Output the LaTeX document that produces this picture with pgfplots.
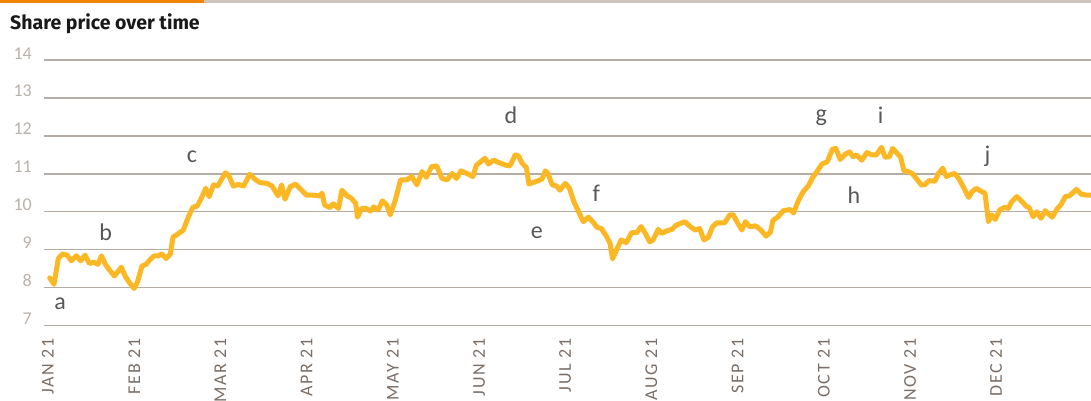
\documentclass[border=0pt]{standalone}
\usepackage{fontspec}
\usepackage{pgfplots}
\pgfplotsset{compat=1.18}
\setmainfont{Carlito}
\newfontfamily\titlefont{Fira Sans}
\newfontfamily\monthfont[LetterSpace=9]{Carlito}
\definecolor{lineamber}{RGB}{251,183,36}
\definecolor{gridcol}{RGB}{182,172,163}
\definecolor{ytickcol}{RGB}{185,178,170}
\definecolor{xtickcol}{RGB}{122,110,102}
\definecolor{lettercol}{RGB}{88,88,88}
\definecolor{barorange}{RGB}{240,131,0}
\definecolor{bargray}{RGB}{205,198,190}
\begin{document}
\begin{tikzpicture}[x=1pt,y=1pt]
\useasboundingbox (0,0) rectangle (1091,401);
\clip (0,0) rectangle (1091,401);
\fill[barorange] (0,398) rectangle (204,401);
\fill[bargray] (204,398) rectangle (1091,401);
\node[anchor=base west, inner sep=0pt, font=\titlefont\bfseries\fontsize{19.5}{22}\selectfont, text=black!90] at (10,371.7) {Share price over time};
\begin{axis}[
  at={(44pt,75.3pt)}, anchor=south west,
  scale only axis, width=1047pt, height=265.7pt,
  xmin=-0.046, xmax=12.10, ymin=7, ymax=14,
  axis line style={draw=none},
  major tick length=0pt,
  ytick={7,8,...,14},
  ymajorgrids,
  grid style={gridcol, line width=1.3pt},
  xtick={0,1,...,11},
  xticklabels={JAN 21,FEB 21,MAR 21,APR 21,MAY 21,JUN 21,JUL 21,AUG 21,SEP 21,OCT 21,NOV 21,DEC 21},
  xticklabel style={rotate=90, anchor=east, inner xsep=12.5pt, inner ysep=0pt, text=xtickcol, font=\monthfont\fontsize{18}{20}\selectfont},
  yticklabel style={anchor=base east, inner sep=0pt, xshift=-12pt, yshift=1pt, text=ytickcol, font=\fontsize{18}{20}\selectfont},
  /pgf/number format/assume math mode=true,
]
\addplot[lineamber, line width=5pt, line join=round, line cap=round] coordinates {
(0.02,8.26)(0.07,8.09)(0.12,8.77)(0.17,8.89)(0.22,8.86)(0.27,8.71)(0.33,8.84)(0.38,8.71)(0.43,8.86)(0.48,8.64)
(0.53,8.67)(0.58,8.62)(0.62,8.84)(0.67,8.60)(0.72,8.45)(0.77,8.31)(0.82,8.45)(0.85,8.54)(0.90,8.29)(0.95,8.12)
(1.00,7.98)(1.04,8.16)(1.09,8.57)(1.14,8.62)(1.18,8.73)(1.23,8.84)(1.28,8.84)(1.32,8.89)(1.37,8.77)(1.42,8.89)
(1.45,9.33)(1.51,9.42)(1.57,9.52)(1.63,9.87)(1.68,10.12)(1.73,10.15)(1.78,10.36)(1.83,10.62)(1.87,10.40)(1.92,10.71)
(1.97,10.68)(2.02,10.88)(2.06,11.03)(2.10,10.94)(2.15,10.68)(2.21,10.72)(2.27,10.68)(2.34,10.99)(2.40,10.86)(2.46,10.77)
(2.54,10.75)(2.60,10.68)(2.67,10.42)(2.71,10.71)(2.75,10.33)(2.81,10.66)(2.87,10.73)(2.92,10.62)(3.00,10.44)(3.08,10.44)
(3.15,10.42)(3.18,10.49)(3.21,10.18)(3.27,10.11)(3.31,10.21)(3.37,10.09)(3.41,10.57)(3.47,10.42)(3.52,10.36)(3.57,10.22)
(3.59,9.86)(3.64,10.09)(3.69,10.09)(3.74,10.02)(3.78,10.13)(3.83,10.05)(3.88,10.29)(3.93,10.18)(3.97,9.92)(4.03,10.31)
(4.09,10.84)(4.16,10.84)(4.22,10.93)(4.28,10.71)(4.34,11.06)(4.39,10.91)(4.45,11.19)(4.51,11.21)(4.57,10.88)(4.63,10.84)
(4.69,11.01)(4.74,10.88)(4.79,11.08)(4.86,11.01)(4.93,10.93)(4.97,11.23)(5.02,11.32)(5.07,11.41)(5.11,11.26)(5.17,11.36)
(5.24,11.29)(5.31,11.23)(5.36,11.21)(5.42,11.50)(5.46,11.47)(5.50,11.28)(5.55,11.17)(5.58,10.73)(5.65,10.79)(5.73,10.86)
(5.77,11.08)(5.80,11.01)(5.85,10.71)(5.90,10.68)(5.94,10.57)(6.00,10.75)(6.05,10.62)(6.10,10.27)(6.15,10.03)(6.21,9.74)
(6.27,9.86)(6.33,9.71)(6.37,9.59)(6.42,9.56)(6.48,9.35)(6.52,9.17)(6.55,8.76)(6.60,9.02)(6.65,9.26)(6.71,9.19)
(6.77,9.45)(6.83,9.45)(6.88,9.61)(6.93,9.43)(6.98,9.21)(7.02,9.26)(7.08,9.54)(7.12,9.43)(7.18,9.50)(7.24,9.54)
(7.29,9.65)(7.39,9.74)(7.45,9.61)(7.51,9.52)(7.56,9.56)(7.61,9.26)(7.66,9.33)(7.71,9.61)(7.76,9.71)(7.85,9.71)
(7.91,9.92)(7.95,9.92)(8.00,9.71)(8.05,9.52)(8.09,9.74)(8.14,9.61)(8.21,9.63)(8.27,9.52)(8.33,9.36)(8.38,9.46)
(8.41,9.77)(8.47,9.87)(8.53,10.03)(8.61,10.06)(8.65,9.97)(8.70,10.27)(8.76,10.53)(8.82,10.68)(8.87,10.90)(8.92,11.06)
(8.98,11.26)(9.04,11.32)(9.10,11.65)(9.14,11.67)(9.19,11.38)(9.25,11.52)(9.30,11.58)(9.34,11.45)(9.38,11.50)(9.44,11.36)
(9.50,11.56)(9.56,11.50)(9.61,11.50)(9.67,11.70)(9.71,11.44)(9.76,11.45)(9.80,11.67)(9.85,11.54)(9.89,11.45)(9.93,11.08)
(9.98,11.06)(10.03,11.00)(10.08,10.86)(10.13,10.71)(10.17,10.71)(10.22,10.82)(10.29,10.81)(10.33,11.01)(10.38,11.15)(10.42,10.93)
(10.46,10.97)(10.52,11.01)(10.57,10.86)(10.62,10.65)(10.68,10.38)(10.72,10.53)(10.77,10.62)(10.81,10.56)(10.87,10.49)(10.91,9.74)
(10.95,9.92)(10.99,9.80)(11.04,10.05)(11.10,10.12)(11.14,10.09)(11.18,10.27)(11.24,10.40)(11.30,10.27)(11.35,10.14)(11.38,10.12)
(11.43,9.87)(11.47,10.00)(11.52,9.83)(11.57,10.03)(11.60,9.96)(11.65,9.86)(11.71,10.09)(11.75,10.18)(11.80,10.40)(11.85,10.42)
(11.93,10.59)(11.99,10.46)(12.05,10.44)(12.12,10.44)
};
\begin{scope}[every node/.style={font=\fontsize{24}{26}\selectfont, text=lettercol, inner sep=0pt}]
\node at (axis cs:0.14,7.57) {a};
\node at (axis cs:0.67,9.45) {b};
\node at (axis cs:1.67,11.44) {c};
\node at (axis cs:5.37,12.55) {d};
\node at (axis cs:5.67,9.45) {e};
\node at (axis cs:6.36,10.50) {f};
\node at (axis cs:8.97,12.47) {g};
\node at (axis cs:9.35,10.44) {h};
\node at (axis cs:9.66,12.55) {i};
\node at (axis cs:10.90,11.45) {j};
\end{scope}
\end{axis}
\end{tikzpicture}
\end{document}
